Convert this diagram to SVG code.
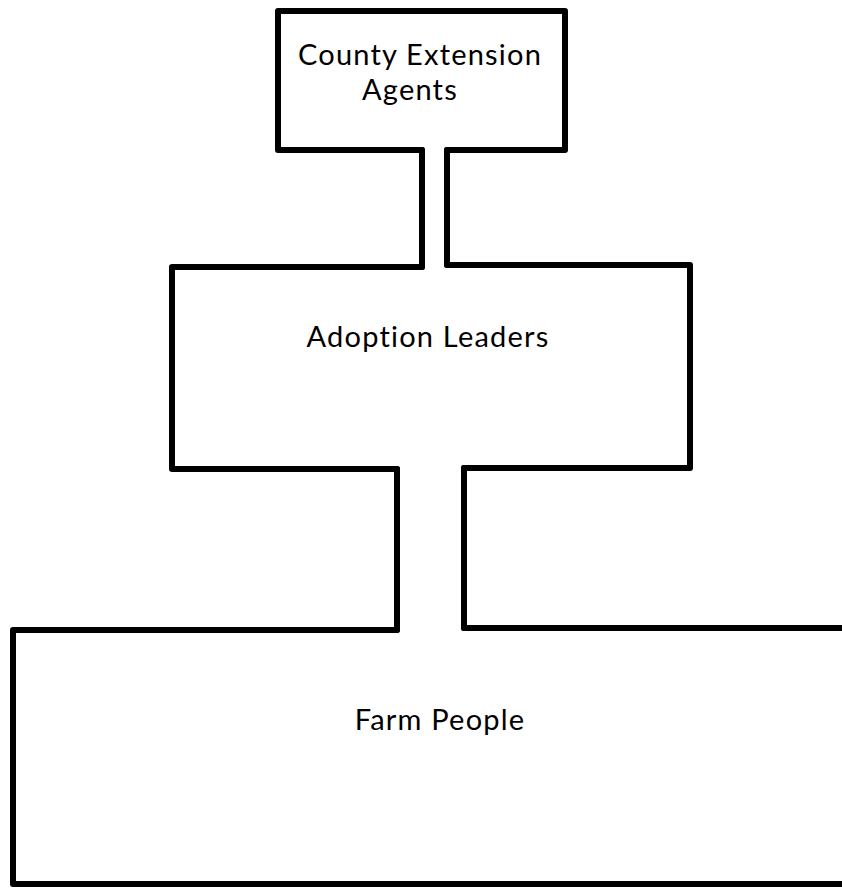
<svg xmlns="http://www.w3.org/2000/svg" width="842" height="893" viewBox="0 0 842 893">
<style>
.ln{fill:none;stroke:#000;stroke-width:6;stroke-linejoin:round;stroke-linecap:round}
.t{font-family:Lato,"Open Sans",sans-serif;font-size:29px;fill:#000;text-anchor:middle;letter-spacing:1.2px}
</style>
<rect width="842" height="893" fill="#fff"/>
<g id="county-extension-agents">
<path class="ln" d="M422,150 L278,150 L278,11 L565,11 L565,150 L447,150"/>
<text class="t" x="420" y="65">County Extension</text>
<text class="t" x="410" y="100">Agents</text>
</g>
<g id="adoption-leaders">
<path class="ln" d="M422,267 L172,267 L172,469 L397,469 M447,265 L690,265 L690,468 L464,468"/>
<text class="t" x="428" y="347">Adoption Leaders</text>
</g>
<g id="farm-people">
<path class="ln" d="M397,630 L13,630 L13,884 L850,884 M464,628 L850,628"/>
<text class="t" x="440" y="730">Farm People</text>
</g>
<g id="connectors">
<path class="ln" d="M422,150 L422,267 M447,150 L447,265"/>
<path class="ln" d="M397,469 L397,630 M464,468 L464,628"/>
</g>
</svg>
